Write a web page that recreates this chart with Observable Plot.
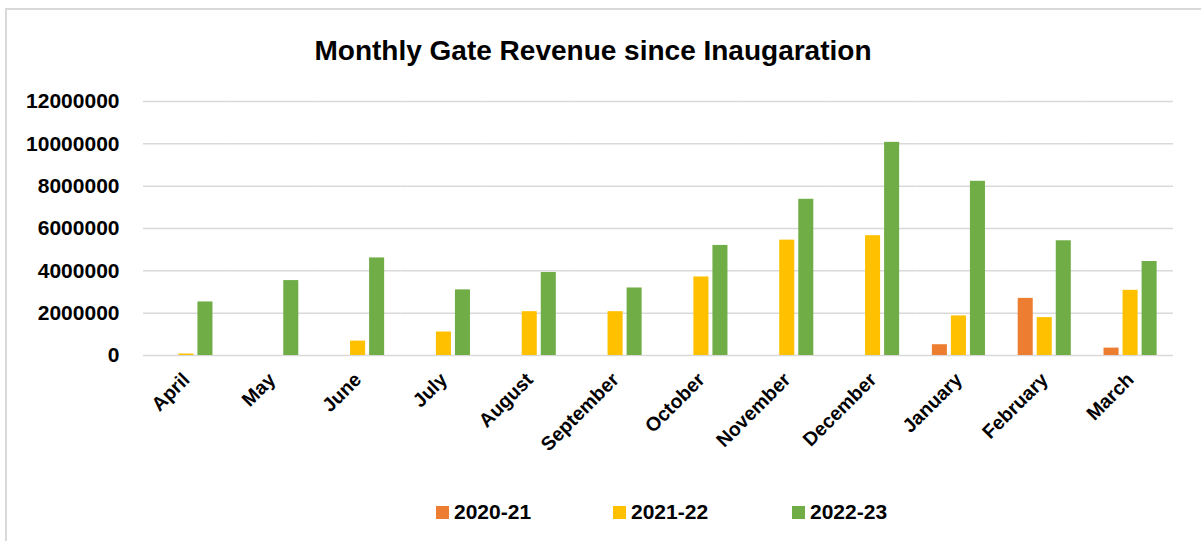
<!DOCTYPE html>
<html>
<head>
<meta charset="utf-8">
<script src="https://cdn.jsdelivr.net/npm/d3@7"></script>
<script src="https://cdn.jsdelivr.net/npm/@observablehq/plot@0.6"></script>
<style>
  html, body { margin: 0; padding: 0; background: #fff; }
  #wrap { position: relative; width: 1201px; height: 541px; overflow: hidden; font-family: "Liberation Sans", Arial, sans-serif; }
  #border { position: absolute; left: 5px; top: 8px; width: 1300px; height: 700px; border-left: 2px solid #d9d9d9; border-top: 2px solid #d9d9d9; }
  #title { position: absolute; left: 0; width: 1186px; top: 35px; text-align: center; font-size: 28px; font-weight: bold; color: #000; }
  #chart { position: absolute; left: 0; top: 0; }
  #chart svg text { font-weight: bold; fill: #000; }
  #legend { position: absolute; top: 500px; left: 0; width: 1201px; }
  .li { position: absolute; display: flex; align-items: center; font-size: 21px; font-weight: bold; color: #000; }
  .sw { width: 13px; height: 13px; margin-right: 5px; }
</style>
</head>
<body>
<div id="wrap">
  <div id="border"></div>
  <div id="chart"></div>
  <div id="title">Monthly Gate Revenue since Inaugaration</div>
  <div id="legend"></div>
</div>
<script>
const months = ["April","May","June","July","August","September","October","November","December","January","February","March"];
const seriesNames = ["2020-21","2021-22","2022-23"];
const colors = ["#ED7D31","#FFC000","#70AD47"];
const v2020 = [null,null,null,null,null,null,null,null,null,510000,2700000,350000];
const v2021 = [70000,null,680000,1110000,2070000,2070000,3710000,5450000,5660000,1870000,1790000,3080000];
const v2022 = [2530000,3540000,4610000,3100000,3920000,3190000,5200000,7380000,10070000,8230000,5420000,4440000];
const yTicks = [0,2000000,4000000,6000000,8000000,10000000,12000000];

const seriesValues = [v2020, v2021, v2022];
const data = [];
seriesNames.forEach((s, i) => {
  months.forEach((m, j) => {
    const v = seriesValues[i][j];
    if (v != null) data.push({month: m, series: s, value: v});
  });
});

const chart = Plot.plot({
  width: 1201,
  height: 541,
  marginLeft: 143,
  marginRight: 28,
  marginTop: 101,
  marginBottom: 186,
  style: {fontFamily: "Liberation Sans, Arial, sans-serif", background: "transparent"},
  fx: {domain: months, padding: 0, round: false, label: null},
  x: {domain: seriesNames, paddingInner: 0.21, paddingOuter: 0.86, round: false, axis: null},
  y: {domain: [0, 12000000], axis: null},
  color: {domain: seriesNames, range: colors},
  marks: [
    Plot.ruleY(yTicks, {stroke: "#d9d9d9", strokeWidth: 1.5}),
    Plot.barY(data, {fx: "month", x: "series", y: "value", fill: "series"}),
    Plot.axisY({ticks: yTicks, tickFormat: d => String(d), tickSize: 0, tickPadding: 24, fontSize: 21, label: null}),
    Plot.axisFx({anchor: "bottom", tickRotate: -45, tickSize: 0, tickPadding: 21, fontSize: 19.5, label: null})
  ]
});
document.getElementById("chart").appendChild(chart);

const legend = document.getElementById("legend");
const lx = [436, 613, 792];
seriesNames.forEach((s, i) => {
  const d = document.createElement("div");
  d.className = "li";
  d.style.left = lx[i] + "px";
  d.innerHTML = `<span class="sw" style="background:${colors[i]}"></span><span>${s}</span>`;
  legend.appendChild(d);
});
</script>
</body>
</html>
